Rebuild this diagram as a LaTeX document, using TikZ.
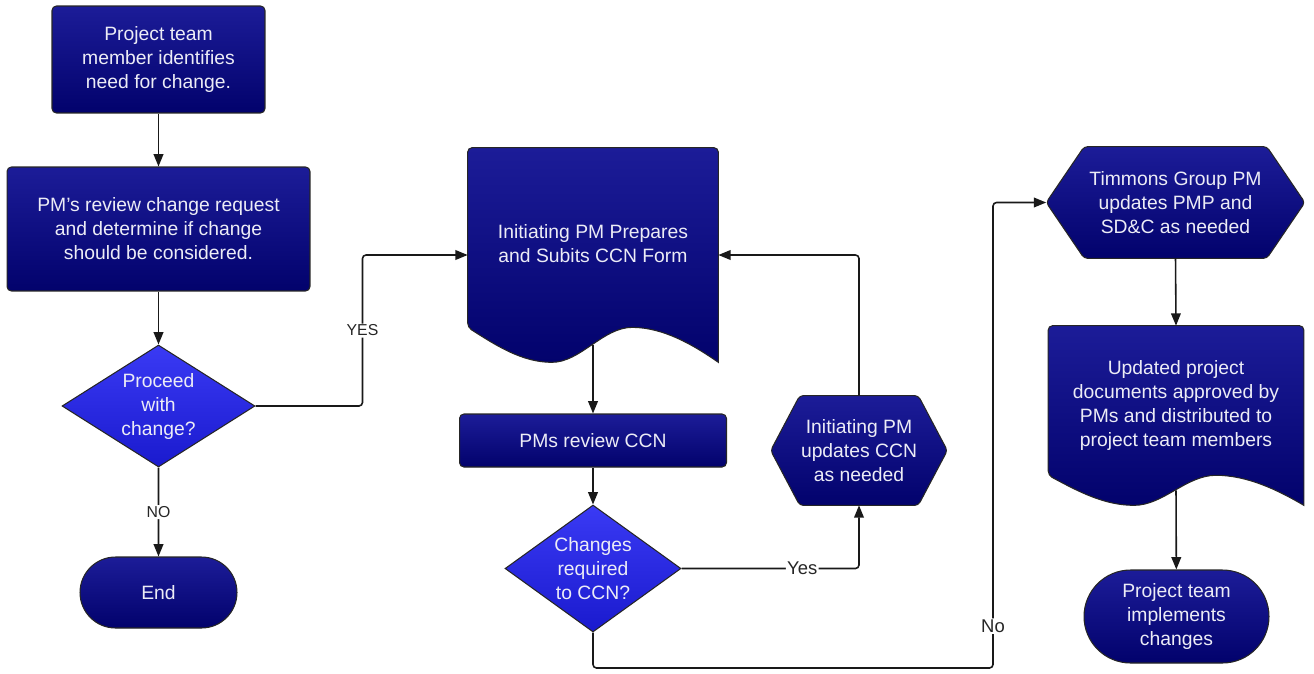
\documentclass[tikz,border=0pt]{standalone}
\usepackage{fontspec}
\setmainfont{Liberation Sans}
\usetikzlibrary{arrows.meta, calc, shapes.geometric, shapes.misc}
\pgfdeclarelayer{background}
\pgfsetlayers{background,main}
\definecolor{navytop}{RGB}{28,28,152}
\definecolor{navybot}{RGB}{2,2,108}
\definecolor{bluetop}{RGB}{58,58,244}
\definecolor{bluebot}{RGB}{26,26,206}
\definecolor{shapetext}{RGB}{236,236,246}

\tikzset{
  flow/.style={draw=black!85, line width=0.6pt, top color=navytop, bottom color=navybot,
    text=shapetext, font=\fontsize{11}{13.66}\selectfont, align=center, inner sep=0pt},
  procbox/.style={flow, rectangle, rounded corners=2.5pt},
  decision/.style={flow, diamond, top color=bluetop, bottom color=bluebot},
  terminal/.style={flow, rounded rectangle},
  textonly/.style={rectangle, text=shapetext, font=\fontsize{11}{13.66}\selectfont, align=center, inner sep=0pt},
  shapefill/.style={draw=black!85, line width=0.6pt, top color=navytop, bottom color=navybot},
  line/.style={draw=black!90, line width=0.9pt, rounded corners=2pt},
  arrow/.style={line, -{Triangle[length=7pt,width=5.5pt]}},
  answer/.style={fill=white, text=black!85, inner sep=0.8pt, font=\fontsize{9}{10}\selectfont},
  biganswer/.style={answer, font=\fontsize{10.5}{12}\selectfont}
}

% document outline with a wavy bottom, behind a text node
\newcommand{\docshape}[2]{%
  \begin{pgfonlayer}{background}
  \path[shapefill] (#1.north) [rounded corners=2.5pt] -- (#1.north west)
    -- ([yshift=#2]#1.south west) [sharp corners]
    .. controls ($(#1.south west)!0.12!(#1.south east)+(0,0.45*#2)$)
           and ($(#1.south west)!0.22!(#1.south east)$)
    .. ($(#1.south west)!0.336!(#1.south east)$)
    .. controls ($(#1.south west)!0.45!(#1.south east)$)
           and ($(#1.south west)!0.54!(#1.south east)+(0,#2)$)
    .. ($(#1.south west)!0.656!(#1.south east)+(0,#2)$)
    .. controls ($(#1.south west)!0.78!(#1.south east)+(0,#2)$)
           and ($(#1.south west)!0.9!(#1.south east)+(0,0.5*#2)$)
    .. (#1.south east) [rounded corners=2.5pt] -- (#1.north east) -- cycle;
  \end{pgfonlayer}}

% stretched hexagon behind a text node
\newcommand{\hexshape}[2]{%
  \begin{pgfonlayer}{background}
  \path[shapefill, rounded corners=2pt] (#1.west) -- ([xshift=#2]#1.north west)
    -- ([xshift=-#2]#1.north east) -- (#1.east) -- ([xshift=-#2]#1.south east)
    -- ([xshift=#2]#1.south west) -- cycle;
  \end{pgfonlayer}}

\begin{document}
\begin{tikzpicture}[x=0.02cm, y=-0.02cm]
\useasboundingbox (0,0) rectangle (1314,673);

% left column
\node[procbox, minimum width=4.26cm, minimum height=2.14cm] (identify) at (158.5,59.5)
  {Project team\\member identifies\\need for change.};
\node[procbox, minimum width=6.06cm, minimum height=2.48cm] (review) at (158.5,229)
  {PM's review change request\\and determine if change\\should be considered.};
\node[decision, aspect=1.58, minimum width=3.86cm, minimum height=2.44cm] (proceed) at (158.5,406)
  {Proceed\\with\\change?};
\node[terminal, minimum width=3.14cm, minimum height=1.42cm] (finish) at (158.5,592.5) {End};

% middle column
\node[textonly, minimum width=5cm, minimum height=4.28cm] (prepare) at (593,255)
  {Initiating PM Prepares\\and Subits CCN Form\\~};
\docshape{prepare}{19.9pt}
\node[procbox, minimum width=5.34cm, minimum height=1.06cm] (checkccn) at (593,440.5) {PMs review CCN};
\node[decision, aspect=1.39, minimum width=3.52cm, minimum height=2.54cm] (changes) at (593,568.5)
  {Changes\\required\\to CCN?};
\node[textonly, minimum width=3.52cm, minimum height=2.18cm] (updateccn) at (859,450.5)
  {Initiating PM\\updates CCN\\as needed};
\hexshape{updateccn}{16.5pt}

% right column
\node[textonly, minimum width=5.16cm, minimum height=2.22cm] (updateplan) at (1175.5,202.5)
  {Timmons Group PM\\updates PMP and\\SD\&C as needed};
\hexshape{updateplan}{21.6pt}
\node[textonly, minimum width=5.1cm, minimum height=3.58cm] (approve) at (1176,415.5)
  {Updated project\\documents approved by\\PMs and distributed to\\project team members\\~};
\docshape{approve}{17.1pt}
\node[terminal, minimum width=3.7cm, minimum height=1.86cm] (implement) at (1176.5,616.5)
  {Project team\\implements\\changes};

% connectors
\draw[arrow] (identify) -- (review);
\draw[arrow] (review) -- (proceed);
\draw[arrow] (proceed) -- node[answer] {NO} (finish);
\draw[arrow] (proceed.east) -- ++(107,0) |- node[answer, pos=0.25] {YES} (prepare.west);
\draw[arrow] ([yshift=9.95pt]prepare.south) -- (checkccn);
\draw[arrow] (checkccn) -- (changes);
\draw[arrow] (changes.east) -| node[biganswer, pos=0.34] {Yes} (updateccn.south);
\draw[arrow] (updateccn.north) |- (prepare.east);
\coordinate (nobend) at (993,668);
\draw[arrow] (changes.south) |- (nobend) |- node[biganswer, pos=0.045] {No} (updateplan.west);
\draw[arrow] (updateplan.south) -- (approve.north);
\draw[arrow] ([yshift=8.55pt]approve.south) -- (implement);
\end{tikzpicture}
\end{document}
